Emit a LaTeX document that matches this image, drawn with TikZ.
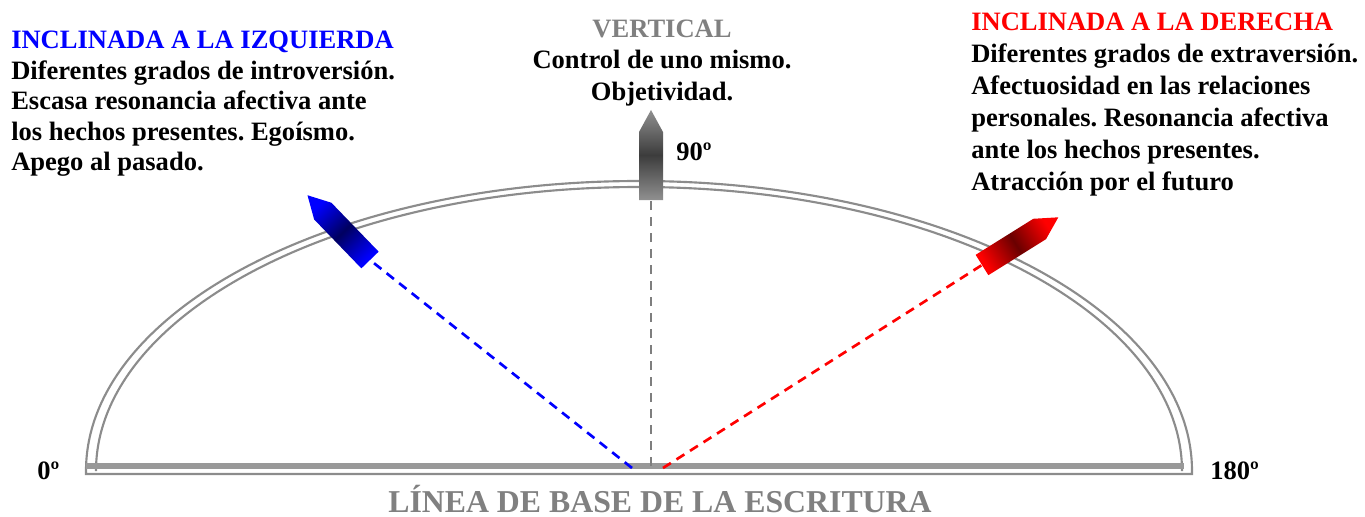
\documentclass[tikz,border=0pt]{standalone}
\usepackage{fontspec}
\setmainfont{Liberation Serif}
\definecolor{linegray}{HTML}{8C8C8C}
\definecolor{bargray}{HTML}{999999}
\definecolor{txtgray}{HTML}{808080}
\definecolor{blueend}{HTML}{0000FF}
\definecolor{bluemid}{HTML}{000060}
\definecolor{redend}{HTML}{FF0000}
\definecolor{redmid}{HTML}{6A0000}
\definecolor{grayend}{HTML}{909090}
\definecolor{graymid}{HTML}{3C3C3C}
\frenchspacing
\begin{document}
\begin{tikzpicture}[x=0.75pt,y=-0.75pt,
  elline/.style={draw=linegray,line width=1.6pt},
  dashline/.style={line width=2pt,dash pattern=on 7pt off 5pt},
  txt/.style={inner sep=0pt,font=\fontsize{19.9}{22.9}\selectfont\bfseries}]
\useasboundingbox (0,0) rectangle (1365,517);
% half ellipse (double outline)
\draw[elline] (86,474) -- (86,471) arc[start angle=180,end angle=360,x radius=553,y radius=290] -- (1192,474) -- cycle;
\draw[elline] (96,468) -- (96,471) arc[start angle=180,end angle=360,x radius=543,y radius=284] -- (1182,468);
% base bar
\fill[bargray] (86,463) rectangle (1184,469);
% coordinates
\coordinate (vb) at (651,466);
\coordinate (bb) at (632,468);
\coordinate (rb) at (663,468);
\coordinate (ga) at (651,200);
\coordinate (ba) at (370,260);
\coordinate (ra) at (982,265);
% dashed connectors
\draw[dashline,draw=linegray!90!black] (vb) -- (ga);
\draw[dashline,draw=blue] (bb) -- (ba);
\draw[dashline,draw=red] (rb) -- (ra);
% arrows
\begin{scope}[shift={(ga)}]
  \shade[top color=grayend,bottom color=grayend,middle color=graymid,shading angle=0]
    (-12,0) -- (12,0) -- (12,-68) -- (0,-90) -- (-12,-68) -- cycle;
\end{scope}
\begin{scope}[shift={(ba)},rotate=44]
  \shade[top color=blueend,bottom color=blueend,middle color=bluemid,shading angle=44]
    (-12,0) -- (12,0) -- (12,-68) -- (0,-90) -- (-12,-68) -- cycle;
\end{scope}
\begin{scope}[shift={(ra)},rotate=-58]
  \shade[top color=redend,bottom color=redend,middle color=redmid,shading angle=-58]
    (-12,0) -- (12,0) -- (12,-68) -- (0,-90) -- (-12,-68) -- cycle;
\end{scope}
% texts
\node[txt,anchor=north west,align=left] (lefttxt) at (11,31)
  {\textcolor{blue}{INCLINADA A LA IZQUIERDA}\\
   Diferentes grados de introversión.\\
   Escasa resonancia afectiva ante\\
   los hechos presentes. Egoísmo.\\
   Apego al pasado.};
\node[txt,font=\fontsize{19.9}{23.6}\selectfont\bfseries,anchor=north,align=center] (centertxt) at (662,19.5)
  {\textcolor{txtgray}{VERTICAL}\\
   Control de uno mismo.\\
   Objetividad.};
\node[txt,font=\fontsize{19.9}{24}\selectfont\bfseries,anchor=north west,align=left] (righttxt) at (971,12.5)
  {\textcolor{red}{INCLINADA A LA DERECHA}\\
   Diferentes grados de extraversión.\\
   Afectuosidad en las relaciones\\
   personales. Resonancia afectiva\\
   ante los hechos presentes.\\
   Atracción por el futuro};
\node[txt,anchor=base west] (deg90) at (676,161) {90º};
\node[txt,anchor=base west] (deg0) at (37,479) {0º};
\node[txt,anchor=base west] (deg180) at (1210,479) {180º};
\node[txt,font=\fontsize{23.85}{28}\selectfont\bfseries,text=txtgray,anchor=base] (baselbl) at (660,512) {LÍNEA DE BASE DE LA ESCRITURA};
\end{tikzpicture}
\end{document}
